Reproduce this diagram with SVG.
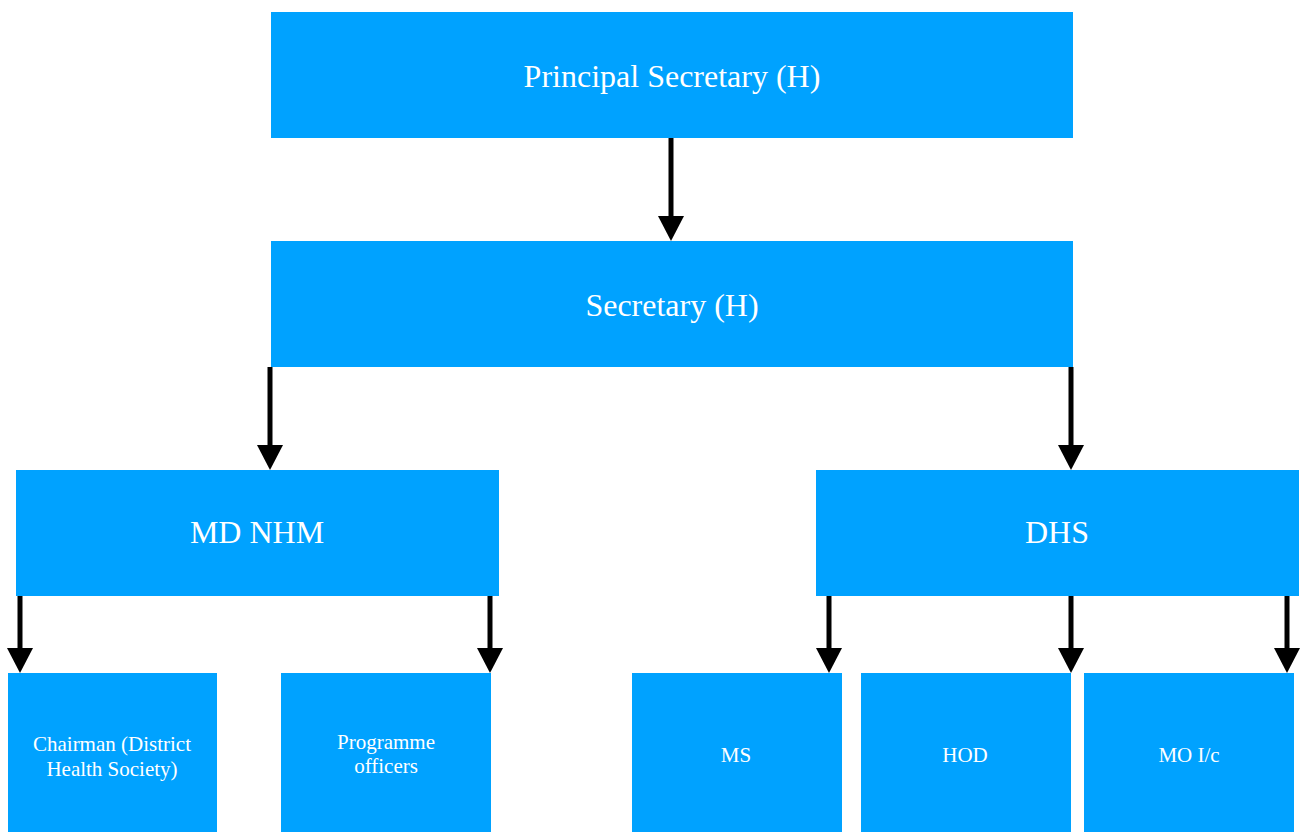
<svg xmlns="http://www.w3.org/2000/svg" width="1304" height="832" viewBox="0 0 1304 832">
<style>
.box{fill:#00A2FF}
.t{font-family:"Liberation Serif","Times New Roman",serif;fill:#ffffff;text-anchor:middle}
.big{font-size:32px}
.small{font-size:21px}
.c{stroke:#000;stroke-width:5;fill:none;marker-end:url(#ah)}
</style>
<defs>
<marker id="ah" markerUnits="userSpaceOnUse" markerWidth="26" markerHeight="26" viewBox="0 0 26 26" refX="15" refY="13" orient="auto">
<path d="M0,0 L25,13 L0,26 Z" fill="#000"/>
</marker>
</defs>
<rect width="1304" height="832" fill="#fff"/>
<g id="n1"><rect class="box" x="271" y="12" width="802" height="126"/><text class="t big" x="672" y="87">Principal Secretary (H)</text></g>
<g id="n2"><rect class="box" x="271" y="241" width="802" height="126"/><text class="t big" x="672" y="316">Secretary (H)</text></g>
<g id="n3"><rect class="box" x="16" y="470" width="483" height="126"/><text class="t big" x="257" y="543">MD NHM</text></g>
<g id="n4"><rect class="box" x="816" y="470" width="483" height="126"/><text class="t big" x="1057" y="543">DHS</text></g>
<g id="n5"><rect class="box" x="8" y="673" width="209" height="170"/><text class="t small" x="112" y="751">Chairman (District</text><text class="t small" x="112" y="776">Health Society)</text></g>
<g id="n6"><rect class="box" x="281" y="673" width="210" height="170"/><text class="t small" x="386" y="749">Programme</text><text class="t small" x="386" y="773">officers</text></g>
<g id="n7"><rect class="box" x="632" y="673" width="210" height="170"/><text class="t small" x="736" y="762">MS</text></g>
<g id="n8"><rect class="box" x="861" y="673" width="210" height="170"/><text class="t small" x="965" y="762">HOD</text></g>
<g id="n9"><rect class="box" x="1084" y="673" width="210" height="170"/><text class="t small" x="1189" y="762">MO I/c</text></g>
<g id="connectors">
<line class="c" x1="671" y1="138" x2="671" y2="231"/>
<line class="c" x1="270" y1="367" x2="270" y2="460"/>
<line class="c" x1="1071" y1="367" x2="1071" y2="460"/>
<line class="c" x1="20" y1="596" x2="20" y2="663"/>
<line class="c" x1="490" y1="596" x2="490" y2="663"/>
<line class="c" x1="829" y1="596" x2="829" y2="663"/>
<line class="c" x1="1071" y1="596" x2="1071" y2="663"/>
<line class="c" x1="1287" y1="596" x2="1287" y2="663"/>
</g>
</svg>
